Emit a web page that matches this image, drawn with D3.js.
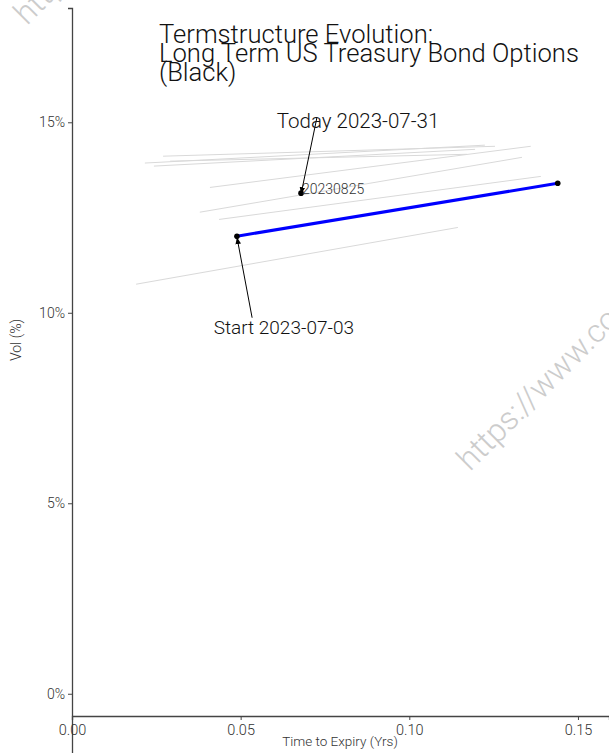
<!DOCTYPE html>
<html>
<head>
  <meta charset="UTF-8">
  <title>Termstructure Evolution</title>
  <script src="https://d3js.org/d3.v7.min.js"></script>
  <style>
    body { margin: 0; background: white; }
    text { font-family: Roboto, sans-serif; font-weight: 300; }
  </style>
</head>
<body>
<div id="chart"></div>
<script>
// history curves (grey): each curve is [expiry, vol%] pairs
const historyCurves = [
  [[0.0270, 14.11], [0.1254, 14.37]],
  [[0.0216, 13.93], [0.1224, 14.40]],
  [[0.0243, 13.85], [0.1195, 14.29]],
  [[0.0291, 13.98], [0.1171, 14.16]],
  [[0.0409, 13.29], [0.1360, 14.37]],
  [[0.0379, 12.64], [0.1334, 14.08]],
  [[0.0436, 12.45], [0.1390, 13.58]],
  [[0.0190, 10.75], [0.1144, 12.24]]
];
// start curve (blue)
const startCurve = [[0.0489, 12.01], [0.1440, 13.40]];
// today's point
const todayPoint = [0.0679, 13.14];
const todayLabel = "20230825";

const xTicks = [0, 0.05, 0.10, 0.15];
const yTicks = [0, 5, 10, 15];

const titleLines = ["Termstructure Evolution:", "Long Term US Treasury Bond Options", "(Black)"];

const W = 609, H = 753;
const svg = d3.select("#chart").append("svg")
  .attr("width", W).attr("height", H);

const x = d3.scaleLinear().domain([0, 0.1592]).range([72, 609]);
const y = d3.scaleLinear().domain([-2.5, 18]).range([789, 8]);
const axisY = 716;

// watermark
[[27, 26], [470, 472]].forEach(p => {
  svg.append("text")
    .attr("transform", "translate(" + p[0] + "," + p[1] + ") rotate(-45)")
    .style("font-size", "32px")
    .style("fill", "#cccccc")
    .text("https://www.codeandtrade.com");
});

// axes
const yAxis = svg.append("g")
  .attr("transform", "translate(72,0)")
  .call(d3.axisLeft(y).tickValues(yTicks).tickFormat(d => d + "%").tickSizeInner(4).tickSizeOuter(4));
const xAxis = svg.append("g")
  .attr("transform", "translate(0," + axisY + ")")
  .call(d3.axisBottom(x).tickValues(xTicks).tickFormat(d3.format(".2f")).tickSizeInner(4).tickSizeOuter(4));
[yAxis, xAxis].forEach(a => {
  a.select(".domain").attr("stroke", "#444").attr("stroke-width", 1.3);
  a.selectAll(".tick line").attr("stroke", "#444");
  a.selectAll(".tick text").style("font-family", "Roboto").style("font-weight", 300).attr("fill", "#333");
});
yAxis.selectAll(".tick text").style("font-size", "14px");
xAxis.selectAll(".tick text").style("font-size", "14.5px").attr("dy", "0.85em");

svg.append("text")
  .attr("x", 340).attr("y", 746)
  .attr("text-anchor", "middle")
  .style("font-size", "13.5px").style("fill", "#333")
  .text("Time to Expiry (Yrs)");
svg.append("text")
  .attr("transform", "translate(21,340) rotate(-90)")
  .attr("text-anchor", "middle")
  .style("font-size", "14px").style("fill", "#333")
  .text("Vol (%)");

// title
svg.append("text")
  .attr("x", 159).attr("y", 43)
  .style("font-size", "25.6px").style("fill", "#111")
  .selectAll("tspan").data(titleLines).join("tspan")
  .attr("x", 159).attr("dy", (d, i) => i === 0 ? 0 : 19)
  .text(d => d);

const line = d3.line().x(d => x(d[0])).y(d => y(d[1]));

svg.selectAll(".hist").data(historyCurves).join("path")
  .attr("class", "hist")
  .attr("d", line)
  .attr("fill", "none")
  .attr("stroke", "#d9d9d9")
  .attr("stroke-width", 1);

svg.append("path")
  .attr("d", line(startCurve))
  .attr("fill", "none")
  .attr("stroke", "#0000ff")
  .attr("stroke-width", 3);

svg.selectAll(".dot").data([startCurve[0], startCurve[1], todayPoint]).join("circle")
  .attr("cx", d => x(d[0])).attr("cy", d => y(d[1])).attr("r", 2.8)
  .attr("fill", "black");

svg.append("text")
  .attr("x", x(todayPoint[0]) + 1).attr("y", y(todayPoint[1]) + 1)
  .style("font-size", "14px").style("fill", "#333")
  .text(todayLabel);

// annotations with arrows
svg.append("defs").append("marker")
  .attr("id", "arr").attr("viewBox", "0 0 10 10")
  .attr("refX", 10).attr("refY", 5)
  .attr("markerWidth", 7).attr("markerHeight", 7)
  .attr("orient", "auto")
  .append("path").attr("d", "M0,1 L10,5 L0,9 Z").attr("fill", "black");

const annotations = [
  { text: "Today 2023-07-31", size: 20.5, tx: 0.0848, ty: 15.05, ax: 0.0726, ay: 15.12, target: todayPoint },
  { text: "Start 2023-07-03", size: 19, tx: 0.0628, ty: 9.62, ax: 0.0534, ay: 9.87, target: startCurve[0] }
];
annotations.forEach(a => {
  svg.append("line")
    .attr("x1", x(a.ax)).attr("y1", y(a.ay))
    .attr("x2", x(a.target[0])).attr("y2", y(a.target[1]) + 1)
    .attr("stroke", "black").attr("stroke-width", 1)
    .attr("marker-end", "url(#arr)");
  svg.append("text")
    .attr("x", x(a.tx)).attr("y", y(a.ty))
    .attr("text-anchor", "middle").attr("dy", "0.35em")
    .style("font-size", a.size + "px").style("fill", "#111")
    .text(a.text);
});
</script>
</body>
</html>
